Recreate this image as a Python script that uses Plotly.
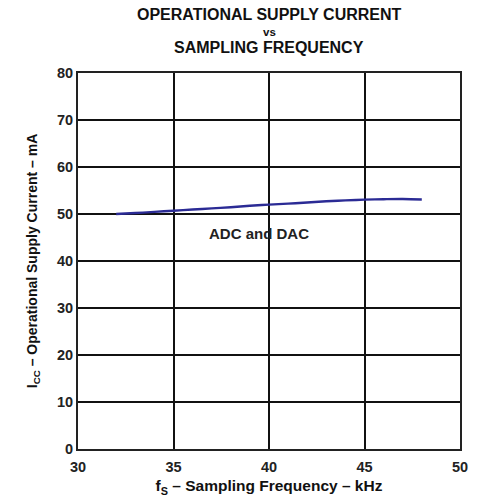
import plotly.graph_objects as go

freq_khz = [32, 33, 34, 35, 36, 37, 38, 39, 40, 41, 42, 43, 44, 45, 46, 47, 48]
icc_ma = [50.0, 50.2, 50.45, 50.7, 50.95, 51.2, 51.45, 51.75, 52.0, 52.2, 52.45, 52.7, 52.9, 53.05, 53.15, 53.2, 53.1]

x_ticks = [30, 35, 40, 45, 50]
y_ticks = [0, 10, 20, 30, 40, 50, 60, 70, 80]

title_lines = ["OPERATIONAL SUPPLY CURRENT", "vs", "SAMPLING FREQUENCY"]

font = "Liberation Sans, Arial, sans-serif"

fig = go.Figure()
fig.add_trace(go.Scatter(x=freq_khz, y=icc_ma, mode="lines",
                         line=dict(color="#2b2b95", width=2.4, shape="spline"),
                         showlegend=False, hoverinfo="skip"))

fig.add_annotation(x=39.5, y=45.8, text="<b>ADC and DAC</b>", showarrow=False,
                   font=dict(family=font, size=15, color="#222"))

for txt, yy, sz in zip(title_lines, [1.155, 1.108, 1.068], [16, 11.5, 16]):
    fig.add_annotation(x=0.5, y=yy, xref="paper", yref="paper", text=f"<b>{txt}</b>",
                       showarrow=False, xanchor="center", yanchor="middle",
                       font=dict(family=font, size=sz, color="#111"))

fig.update_layout(
    width=499, height=504,
    margin=dict(l=78, r=39, t=73, b=52),
    paper_bgcolor="white", plot_bgcolor="white",
    xaxis=dict(range=[30, 50], tickvals=x_ticks, ticktext=[f"<b>{v}</b>" for v in x_ticks],
               showgrid=True, gridcolor="#111", gridwidth=1.5,
               showline=True, linecolor="#222", linewidth=2, mirror=True,
               ticks="outside", ticklen=4, tickcolor="rgba(0,0,0,0)", zeroline=False,
               tickfont=dict(family=font, size=14.5, color="#222"),
               title=dict(text="<b>f<sub>S</sub> – Sampling Frequency – kHz</b>",
                          font=dict(family=font, size=15.5, color="#111"), standoff=6)),
    yaxis=dict(range=[0, 80], tickvals=y_ticks, ticktext=[f"<b>{v}</b>" for v in y_ticks],
               showgrid=True, gridcolor="#111", gridwidth=1.5,
               showline=True, linecolor="#222", linewidth=2, mirror=True,
               ticks="", zeroline=False,
               tickfont=dict(family=font, size=14.5, color="#222"),
               title=dict(text="<b>I<sub>CC</sub> – Operational Supply Current – mA</b>",
                          font=dict(family=font, size=14, color="#111"), standoff=16)),
)

fig.write_html("out.html")
